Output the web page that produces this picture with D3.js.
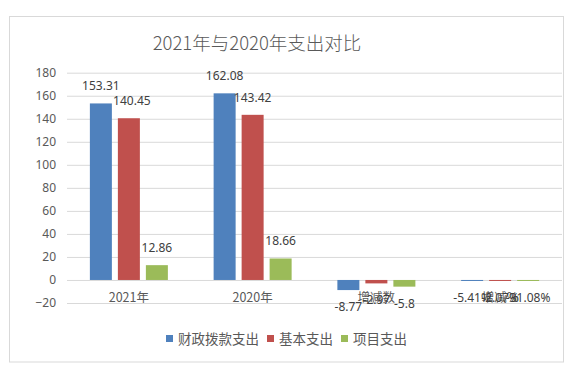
<!DOCTYPE html>
<html lang="zh">
<head>
    <title>2021年与2020年支出对比</title>
    <meta charset="utf-8">
    <script src="https://d3js.org/d3.v7.min.js"></script>
    <style>
        body { margin: 0; background: #fff; }
        text { font-family: "Noto Sans CJK SC", "Noto Sans", sans-serif; }
    </style>
</head>
<body>
<div id="visualization"></div>
<script>
    // Data
    const categories = ["2021年", "2020年", "增减数", "增减%"];
    const seriesNames = ["财政拨款支出", "基本支出", "项目支出"];
    const seriesColors = ["#4F81BD", "#C0504D", "#9BBB59"];
    const fundValues = [153.31, 162.08, -8.77, -0.0541];
    const basicValues = [140.45, 143.42, -2.97, -0.0207];
    const projectValues = [12.86, 18.66, -5.8, -0.3108];
    const valueLabels = [
        ["153.31", "162.08", "-8.77", "-5.41%"],
        ["140.45", "143.42", "-2.97", "-2.07%"],
        ["12.86", "18.66", "-5.8", "-31.08%"]
    ];
    const yTicks = [-20, 0, 20, 40, 60, 80, 100, 120, 140, 160, 180];

    const width = 581, height = 376;
    const plot = {left: 67, right: 562, top: 72.7, bottom: 303};

    const svg = d3.select("#visualization")
        .append("svg")
        .attr("width", width)
        .attr("height", height);

    // chart frame
    svg.append("rect")
        .attr("x", 9.5).attr("y", 16.5)
        .attr("width", 554).attr("height", 345.5)
        .attr("fill", "#fff")
        .attr("stroke", "#d9d9d9");

    // title
    svg.append("text")
        .attr("x", 257).attr("y", 50)
        .attr("text-anchor", "middle")
        .attr("font-size", 18.5)
        .attr("font-weight", 300)
        .attr("fill", "#595959")
        .text("2021年与2020年支出对比");

    const y = d3.scaleLinear()
        .domain([-20, 180])
        .range([plot.bottom, plot.top]);

    const x0 = d3.scaleBand()
        .domain(categories)
        .range([plot.left, plot.right]);

    const x1 = d3.scaleBand()
        .domain(seriesNames)
        .range([0, 78])
        .paddingInner(6 / 28);

    const groupOffset = (x0.bandwidth() - 78) / 2;

    // gridlines + y labels
    const yAxis = svg.append("g")
        .attr("transform", `translate(${plot.left},0)`)
        .call(d3.axisLeft(y).tickValues(yTicks).tickSize(-(plot.right - plot.left)).tickPadding(11));
    yAxis.select(".domain").remove();
    yAxis.selectAll(".tick line").attr("stroke", "#d9d9d9");
    yAxis.selectAll(".tick text")
        .attr("fill", "#595959")
        .attr("font-size", 12)
        .style("font-family", "'Noto Sans', sans-serif");

    const series = [fundValues, basicValues, projectValues];

    // bars
    series.forEach((vals, si) => {
        svg.append("g")
            .selectAll("rect")
            .data(vals)
            .join("rect")
            .attr("x", (d, i) => x0(categories[i]) + groupOffset + x1(seriesNames[si]))
            .attr("y", d => y(Math.max(0, d)))
            .attr("width", x1.bandwidth())
            .attr("height", d => Math.max(1, Math.abs(y(d) - y(0))))
            .attr("fill", seriesColors[si]);
    });

    // category labels
    svg.append("g")
        .selectAll("text")
        .data(categories)
        .join("text")
        .attr("x", d => x0(d) + x0.bandwidth() / 2)
        .attr("y", 302)
        .attr("text-anchor", "middle")
        .attr("font-size", 12.5)
        .attr("fill", "#595959")
        .text(d => d);

    // data labels (Excel nudges the 140.45 label a little to the right)
    series.forEach((vals, si) => {
        svg.append("g")
            .selectAll("text")
            .data(vals)
            .join("text")
            .attr("x", (d, i) => x0(categories[i]) + groupOffset + x1(seriesNames[si]) + x1.bandwidth() / 2
                + (si === 1 && i === 0 ? 3 : 0))
            .attr("y", d => d >= 0 ? y(d) - 13 : Math.max(y(d), y(0) + 1) + 21)
            .attr("text-anchor", "middle")
            .attr("font-size", 12)
            .attr("fill", "#404040")
            .style("font-family", "'Noto Sans', sans-serif")
            .text((d, i) => valueLabels[si][i]);
    });

    // legend
    const legend = svg.append("g");
    let lx = 166;
    seriesNames.forEach((name, i) => {
        legend.append("rect")
            .attr("x", lx).attr("y", 335)
            .attr("width", 7).attr("height", 7)
            .attr("fill", seriesColors[i]);
        const t = legend.append("text")
            .attr("x", lx + 12).attr("y", 343.5)
            .attr("font-size", 13.5)
            .attr("fill", "#595959")
            .text(name);
        lx += 12 + t.node().getComputedTextLength() + 8;
    });
</script>
</body>
</html>
